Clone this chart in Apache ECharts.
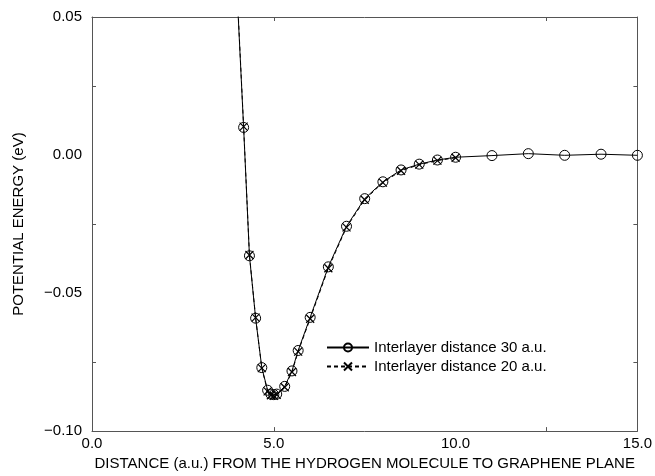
<!DOCTYPE html>
<html>
<head>
<meta charset="utf-8">
<script src="https://cdn.jsdelivr.net/npm/echarts@6/dist/echarts.min.js"></script>
<style>
  html, body { margin: 0; padding: 0; background: #fff; }
  #chart { width: 655px; height: 476px; }
</style>
</head>
<body>
<div id="chart"></div>
<script>
// distance (a.u.) and potential energy (eV)
const dist30 = [4.0, 4.17, 4.33, 4.5, 4.67, 4.83, 4.92, 5.0, 5.08, 5.3, 5.5, 5.67, 6.0, 6.5, 7.0, 7.5, 8.0, 8.5, 9.0, 9.5, 10.0, 11.0, 12.0, 13.0, 14.0, 15.0];
const energy30 = [0.056, 0.0100, -0.0365, -0.0591, -0.0770, -0.0852, -0.0866, -0.0868, -0.0866, -0.0838, -0.0782, -0.0708, -0.0588, -0.0405, -0.0258, -0.0158, -0.0097, -0.0054, -0.0033, -0.0018, -0.0008, -0.0002, 0.0005, -0.0001, 0.0003, -0.0001];
const dist20 = [4.0, 4.17, 4.33, 4.5, 4.67, 4.83, 4.92, 5.0, 5.08, 5.3, 5.5, 5.67, 6.0, 6.5, 7.0, 7.5, 8.0, 8.5, 9.0, 9.5, 10.0];
const energy20 = [0.057, 0.0103, -0.0362, -0.0589, -0.0772, -0.0856, -0.0870, -0.0872, -0.0869, -0.0841, -0.0786, -0.0712, -0.0593, -0.0410, -0.0262, -0.0162, -0.0100, -0.0057, -0.0035, -0.0020, -0.0010];

const xLabels = [0, 5, 10, 15];
const xTicks = [5, 12.5];
const yLabels = [-0.1, -0.05, 0, 0.05];
const yTicks = [-0.075, -0.025, 0.025];

const font = "'Liberation Sans', Arial, sans-serif";
const frame = "#555";
const fs = 15;

function fmtY(v) {
  const s = Math.abs(v).toFixed(2);
  return v < -1e-9 ? "\u2212" + s : s;
}

// shared look of the frame axes
function frameLine() {
  return { show: true, onZero: false, lineStyle: { color: frame, width: 1 } };
}
function frameTicks(vals) {
  return { show: true, inside: true, length: 4, customValues: vals, lineStyle: { color: frame } };
}

const myChart = echarts.init(document.getElementById("chart"));

myChart.setOption({
  animation: false,
  textStyle: { fontFamily: font, color: "#000" },
  grid: { left: 92, right: 15, top: 17, bottom: 41 },
  legend: {
    orient: "vertical",
    left: 321,
    top: 335,
    itemWidth: 42,
    itemHeight: 10,
    itemGap: 4,
    textStyle: { fontFamily: font, fontSize: fs, color: "#000" },
    data: ["Interlayer distance 30 a.u.", "Interlayer distance 20 a.u."],
  },
  xAxis: [
    {
      type: "value",
      min: 0,
      max: 15,
      name: "DISTANCE (a.u.) FROM THE HYDROGEN MOLECULE TO GRAPHENE PLANE",
      nameLocation: "middle",
      nameGap: 23,
      nameTextStyle: { fontFamily: font, fontSize: fs, color: "#000" },
      axisLine: frameLine(),
      axisTick: frameTicks(xTicks),
      axisLabel: {
        customValues: xLabels,
        margin: 5,
        fontSize: fs,
        color: "#000",
        formatter: (v) => v.toFixed(1),
      },
      splitLine: { show: false },
    },
    {
      type: "value",
      position: "top",
      min: 0,
      max: 15,
      axisLine: frameLine(),
      axisTick: frameTicks(xTicks),
      axisLabel: { show: false },
      splitLine: { show: false },
    },
  ],
  yAxis: [
    {
      type: "value",
      min: -0.1,
      max: 0.05,
      name: "POTENTIAL ENERGY (eV)",
      nameLocation: "middle",
      nameGap: 66,
      nameTextStyle: { fontFamily: font, fontSize: fs, color: "#000" },
      axisLine: frameLine(),
      axisTick: frameTicks(yTicks),
      axisLabel: {
        customValues: yLabels,
        margin: 10,
        fontSize: fs,
        color: "#000",
        formatter: fmtY,
      },
      splitLine: { show: false },
    },
    {
      type: "value",
      position: "right",
      min: -0.1,
      max: 0.05,
      axisLine: frameLine(),
      axisTick: frameTicks(yTicks),
      axisLabel: { show: false },
      splitLine: { show: false },
    },
  ],
  series: [
    {
      name: "Interlayer distance 20 a.u.",
      type: "line",
      clip: true,
      data: dist20.map((d, i) => [d, energy20[i]]),
      symbol: "path://M0,0L10,10M10,0L0,10",
      symbolSize: 8,
      showAllSymbol: true,
      lineStyle: { color: "#000", width: 1, type: [4, 3] },
      itemStyle: { color: "none", borderColor: "#000", borderWidth: 1.2 },
      z: 2,
    },
    {
      name: "Interlayer distance 30 a.u.",
      type: "line",
      clip: true,
      data: dist30.map((d, i) => [d, energy30[i]]),
      symbol: "circle",
      symbolSize: 10,
      showAllSymbol: true,
      lineStyle: { color: "#000", width: 1 },
      itemStyle: { color: "none", borderColor: "#000", borderWidth: 1 },
      z: 3,
    },
  ],
});
</script>
</body>
</html>
